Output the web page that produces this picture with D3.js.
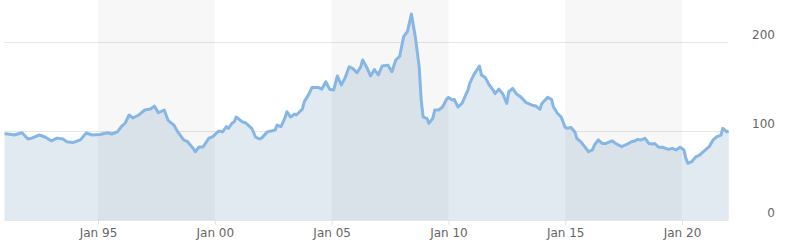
<!DOCTYPE html>
<html>
<head>
<meta charset="utf-8">
<script src="https://cdn.jsdelivr.net/npm/d3@7"></script>
<style>
  body { margin: 0; background: #fff; }
  text { font-family: "DejaVu Sans", Verdana, sans-serif; }
</style>
</head>
<body>
<script>
// monthly index readings
let months = [
  "1991-01","1991-03","1991-06","1991-10","1992-01","1992-03","1992-07","1992-10",
  "1993-01","1993-04","1993-07","1993-09","1993-12","1994-04","1994-07","1994-10",
  "1995-02","1995-06","1995-08","1995-11","1996-01","1996-03","1996-05","1996-07","1996-10",
  "1997-01","1997-04","1997-06","1997-08","1997-11","1998-01","1998-04","1998-06","1998-09","1998-11",
  "1999-02","1999-03","1999-05","1999-07","1999-10","1999-12",
  "2000-03","2000-05","2000-07","2000-08","2000-10","2000-11","2000-12","2001-03","2001-05","2001-07","2001-08","2001-10",
  "2001-12","2002-01","2002-04","2002-06","2002-08","2002-09","2002-11",
  "2003-01","2003-02","2003-04","2003-06","2003-07","2003-10","2003-11",
  "2004-01","2004-03","2004-06","2004-08","2004-10",
  "2004-12","2005-02","2005-04","2005-06","2005-08","2005-10",
  "2005-12","2006-02","2006-04","2006-05","2006-07","2006-09","2006-11",
  "2007-01","2007-03","2007-06","2007-08","2007-10",
  "2007-12","2008-02","2008-04","2008-06","2008-08","2008-10","2008-11",
  "2008-12","2009-02","2009-03","2009-05","2009-06","2009-08","2009-10",
  "2009-12","2010-01","2010-03","2010-04","2010-06","2010-08","2010-11",
  "2010-12","2011-02","2011-05","2011-06","2011-08","2011-10",
  "2011-12","2012-01","2012-03","2012-05","2012-07","2012-08","2012-10",
  "2012-12","2013-02","2013-05","2013-08","2013-10",
  "2013-12","2014-01","2014-04","2014-06","2014-07","2014-09",
  "2014-11","2015-01","2015-02","2015-04","2015-06","2015-07","2015-09",
  "2015-11","2016-01","2016-03","2016-04","2016-06","2016-08","2016-10",
  "2017-01","2017-03","2017-06","2017-09",
  "2017-11","2018-01","2018-02","2018-04","2018-06","2018-08","2018-10",
  "2018-11","2019-01","2019-03","2019-06","2019-08","2019-10",
  "2019-12","2020-02","2020-03","2020-04","2020-06","2020-08","2020-10",
  "2021-01","2021-03","2021-05","2021-07","2021-09","2021-10","2021-12","2022-01"
];
let values = [
  97,96.6,95.5,98,91,92,95.5,93,
  89,92,91,88,87,90,97.7,95.5,
  96,98,96.6,99,105,109,118,114.6,118,
  123.6,124.7,128,120.5,123.6,112,106.7,99,90,88,
  80,76.7,82,82,92,93.6,
  100,99,105,103,109,110.5,115.7,110.5,109,105,103,93,
  91,92,99,100,101,106.7,105,
  114.6,121.7,115.7,119,118,124.7,133,
  140,149,149,147,155.4,
  147,146,161.8,151.7,160,172,
  170,165.5,172,179.8,172,161.8,169,
  163,173,174,166.6,179.8,
  184,206,212,231.5,206,172,135,
  116,114,108.6,114,123.6,123.6,127,
  135.6,137.8,134.8,135.6,127,131,146,
  153.6,163,173,163,160,151.7,
  146,142,147,141.6,131,144,148,
  141.6,138.6,131.8,129,128,
  124.3,131,137.8,135.6,127,120,
  115.4,104,103,104,99,91.8,88,
  82.4,76.7,78.7,84,90,86,86,
  89,86,82.4,85.4,
  88,89,90.6,90,91.8,86,85.4,
  86,81.7,81.7,79.4,80.5,78.7,
  81.7,78.7,69.3,63.7,65.5,71,73,
  78.7,82.4,90,93.6,95.5,103,99,100
];
let bandYears = [[1995, 2000], [2005, 2010], [2015, 2020]];
let yTicks = [0, 100, 200];

let width = 791, height = 246;
let parse = d3.timeParse("%Y-%m");
let data = months.map((m, i) => ({ date: parse(m), value: values[i] }));

let svg = d3.select("body").append("svg")
  .attr("width", width)
  .attr("height", height);

let x = d3.scaleTime()
  .domain([new Date(1995, 0, 1), new Date(2020, 0, 1)])
  .range([98, 682]);

let y = d3.scaleLinear()
  .domain([0, 200])
  .range([220, 42]);

// grid lines
svg.append("g").selectAll("line")
  .data(yTicks.filter(d => d > 0))
  .enter().append("line")
  .attr("x1", 4).attr("x2", 728)
  .attr("y1", d => Math.round(y(d)) + 0.5)
  .attr("y2", d => Math.round(y(d)) + 0.5)
  .attr("stroke", "#e6e6e6");

// area fill
let area = d3.area()
  .x(d => x(d.date))
  .y0(y(0))
  .y1(d => y(d.value));

svg.append("path")
  .datum(data)
  .attr("d", area)
  .attr("fill", "#e1eaf1");

// plot bands sit over the fill, slightly darkening it
svg.append("g").selectAll("rect")
  .data(bandYears)
  .enter().append("rect")
  .attr("x", d => x(new Date(d[0], 0, 1)))
  .attr("width", d => x(new Date(d[1], 0, 1)) - x(new Date(d[0], 0, 1)))
  .attr("y", 0)
  .attr("height", 220)
  .attr("fill", "rgba(0,0,0,0.03)");

// line
let line = d3.line()
  .x(d => x(d.date))
  .y(d => y(d.value));

svg.append("path")
  .datum(data)
  .attr("d", line)
  .attr("fill", "none")
  .attr("stroke", "#86b6e6")
  .attr("stroke-width", 3)
  .attr("stroke-linejoin", "round");

// x axis
let xAxis = svg.append("g")
  .attr("transform", "translate(0,220)")
  .call(d3.axisBottom(x)
    .ticks(d3.timeYear.every(5))
    .tickFormat(d3.timeFormat("Jan %y"))
    .tickSizeOuter(0)
    .tickSize(5)
    .tickPadding(3));
xAxis.select(".domain").remove();
xAxis.insert("line", ":first-child")
  .attr("x1", 4).attr("x2", 728)
  .attr("y1", 0.5).attr("y2", 0.5)
  .attr("stroke", "#e3e8ee");
xAxis.selectAll(".tick line").attr("stroke", "#dde3ea");
xAxis.selectAll(".tick text")
  .attr("fill", "#666")
  .style("font-size", "12px")
  .style("font-family", "'DejaVu Sans', sans-serif");

// y labels on the right
svg.append("g").selectAll("text")
  .data(yTicks)
  .enter().append("text")
  .attr("x", 775)
  .attr("y", d => y(d) - 3)
  .attr("text-anchor", "end")
  .attr("fill", "#666")
  .style("font-size", "12px")
  .text(d => d);
</script>
</body>
</html>
